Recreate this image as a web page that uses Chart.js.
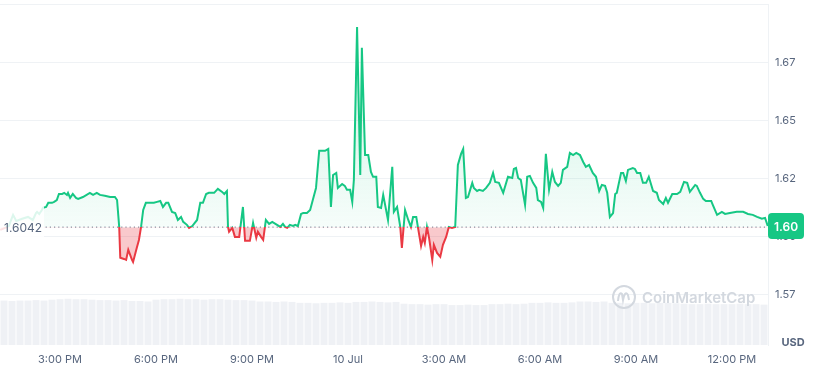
<!DOCTYPE html>
<html lang="en">
<head>
<meta charset="UTF-8">
<title>Price chart</title>
<script src="https://cdn.jsdelivr.net/npm/chart.js@4"></script>
<style>
  html, body { margin: 0; padding: 0; background: #fff; }
  .wrap { width: 816px; height: 378px; position: relative; }
</style>
</head>
<body>
<div class="wrap"><canvas id="chart"></canvas></div>
<script>
// time = minutes after 13:00 on 9 Jul
const times = [
  8,17,24,32,38,49,60,69,75,77,
  81,86,88,94,98,105,109,114,118,124,
  128,133,135,139,144,150,154,163,176,182,
  189,195,204,214,223,227,231,233,240,244,
  248,255,257,264,268,272,276,281,293,296,
  302,308,313,319,323,330,336,341,347,351,
  358,362,368,377,383,388,394,399,409,416,
  424,428,433,435,437,443,448,456,463,467,
  476,482,488,491,497,501,506,512,518,527,
  533,538,542,546,551,557,561,566,572,576,
  583,589,594,600,606,611,617,623,628,632,
  638,641,649,654,658,664,668,671,677,683,
  686,692,698,703,707,713,716,722,726,735,
  743,746,752,758,761,767,773,778,782,788,
  791,797,801,804,808,812,818,821,827,833,
  838,844,849,855,861,866,872,876,881,885,
  893,896,902,906,913,919,926,932,936,943,
  951,960,968,971,975,979,984,992,996,1001,
  1007,1013,1016,1022,1026,1031,1037,1043,1048,1054,
  1059,1063,1071,1076,1082,1088,1095,1101,1106,1112,
  1119,1125,1131,1136,1142,1146,1151,1157,1161,1164,
  1172,1176,1181,1185,1194,1198,1202,1208,1213,1219,
  1224,1232,1239,1243,1251,1256,1260,1268,1277,1283,
  1290,1296,1301,1311,1314,1320,1326,1331,1341,1344,
  1352,1361,1367,1376,1389,1401,1410,1419,1427,1436,
  1442,1447
];
const prices = [
  1.6030,1.6039,1.6047,1.6095,1.6069,1.6078,1.6086,1.6073,1.6103,1.6108,
  1.6099,1.6116,1.6125,1.6129,1.6147,1.6147,1.6151,1.6159,1.6185,1.6185,
  1.6190,1.6181,1.6190,1.6168,1.6185,1.6168,1.6164,1.6172,1.6190,1.6181,
  1.6190,1.6181,1.6177,1.6172,1.6172,1.6159,1.6043,1.5910,1.5905,1.5901,
  1.5944,1.5901,1.5892,1.5953,1.5987,1.6043,1.6116,1.6147,1.6147,1.6147,
  1.6151,1.6155,1.6129,1.6147,1.6147,1.6108,1.6103,1.6073,1.6086,1.6065,
  1.6052,1.6039,1.6047,1.6073,1.6147,1.6147,1.6185,1.6190,1.6190,1.6207,
  1.6194,1.6185,1.6198,1.6043,1.6022,1.6039,1.6000,1.6000,1.6129,1.5983,
  1.5983,1.6060,1.5996,1.6022,1.6000,1.5987,1.6073,1.6056,1.6065,1.6052,
  1.6043,1.6056,1.6043,1.6039,1.6052,1.6047,1.6052,1.6047,1.6099,1.6103,
  1.6103,1.6116,1.6159,1.6211,1.6371,1.6371,1.6371,1.6379,1.6129,1.6267,
  1.6276,1.6211,1.6228,1.6220,1.6203,1.6203,1.6151,1.6246,1.6905,1.6267,
  1.6815,1.6353,1.6353,1.6280,1.6259,1.6259,1.6129,1.6125,1.6181,1.6073,
  1.6302,1.6108,1.6129,1.6043,1.5953,1.6116,1.6073,1.6043,1.6086,1.6086,
  1.6043,1.5961,1.6000,1.5974,1.6043,1.5996,1.5901,1.5966,1.5931,1.5914,
  1.5966,1.6000,1.6043,1.6039,1.6043,1.6310,1.6358,1.6379,1.6168,1.6172,
  1.6233,1.6211,1.6198,1.6203,1.6198,1.6211,1.6233,1.6276,1.6237,1.6233,
  1.6190,1.6259,1.6254,1.6293,1.6297,1.6254,1.6246,1.6138,1.6259,1.6263,
  1.6233,1.6211,1.6159,1.6151,1.6125,1.6358,1.6203,1.6280,1.6237,1.6220,
  1.6233,1.6289,1.6302,1.6362,1.6353,1.6362,1.6353,1.6323,1.6302,1.6310,
  1.6276,1.6259,1.6198,1.6224,1.6220,1.6190,1.6086,1.6103,1.6185,1.6190,
  1.6276,1.6276,1.6241,1.6289,1.6297,1.6293,1.6276,1.6276,1.6233,1.6233,
  1.6259,1.6198,1.6190,1.6159,1.6142,1.6168,1.6147,1.6185,1.6185,1.6194,
  1.6237,1.6233,1.6194,1.6224,1.6220,1.6190,1.6164,1.6155,1.6155,1.6138,
  1.6095,1.6108,1.6099,1.6103,1.6108,1.6108,1.6099,1.6095,1.6086,1.6078,
  1.6082,1.6047
];
const volTimes = [
  15,30,45,60,75,90,105,120,135,150,165,180,195,210,225,240,
  255,270,285,300,315,330,345,360,375,390,405,420,435,450,465,480,
  495,510,525,540,555,570,585,600,615,630,645,660,675,690,705,720,
  735,750,765,780,795,810,825,840,855,870,885,900,915,930,945,960,
  975,990,1005,1020,1035,1050,1065,1080,1095,1110,1125,1140,1155,1170,1185,1200,
  1215,1230,1245,1260,1275,1290,1305,1320,1335,1350,1365,1380,1395,1410,1425,1440
];
const volumes = [
  99,98,99,99,100,99, 101,102,103,102,102,101, 100,100,99,100, 98,98,97,
  101,102,102,103,102,102,101,102,102,101, 100,100,99, 97,97,96,97,96,
  94,94,93,94,94,95,94, 96,96,97,96,95,96, 92,91,91,90,91,91, 89,89,90,89,89,
  91,91,92,91,92, 94,94,95,94,94,95, 97,97,96,97,
  94,94,93,94,94,93,94,94,93, 92,91,91,92,91,91,91,92,91,91,90
];
const openPrice = 1.6042;
const xTickValues = [120, 300, 480, 660, 840, 1020, 1200, 1380];
const xTickLabels = ['3:00 PM', '6:00 PM', '9:00 PM', '10 Jul', '3:00 AM', '6:00 AM', '9:00 AM', '12:00 PM'];
const yTickValues = [1.575, 1.6, 1.625, 1.65, 1.675];
const yTickLabels = ['1.57', '1.60', '1.62', '1.65', '1.67'];

const GREEN = '#16c784';
const RED = '#ea3943';
const TEXT = '#58667e';
const GRID = '#eff2f5';

function lineColor(c) {
  const chart = c.chart;
  const a = chart.chartArea;
  if (!a) return GREEN;
  const yb = chart.scales.y.getPixelForValue(openPrice);
  const s = Math.min(1, Math.max(0, (yb - a.top) / (a.bottom - a.top)));
  const g = chart.ctx.createLinearGradient(0, a.top, 0, a.bottom);
  g.addColorStop(0, GREEN);
  g.addColorStop(s, GREEN);
  g.addColorStop(s, RED);
  g.addColorStop(1, RED);
  return g;
}

function greenFill(c) {
  const chart = c.chart;
  const a = chart.chartArea;
  if (!a) return 'rgba(22,199,132,0.08)';
  const yb = chart.scales.y.getPixelForValue(openPrice);
  const g = chart.ctx.createLinearGradient(0, a.top, 0, yb);
  g.addColorStop(0, 'rgba(22,199,132,0.24)');
  g.addColorStop(1, 'rgba(22,199,132,0.04)');
  return g;
}

// drop the label overflow padding so the plot fills the canvas height
function noPad(s) {
  s.paddingTop = 0;
  s.paddingBottom = 0;
  s.paddingLeft = 0;
  s.paddingRight = 0;
}

const extras = {
  id: 'extras',
  beforeDatasetsDraw(chart) {
    const {ctx, chartArea: a} = chart;
    ctx.save();
    ctx.strokeStyle = GRID;
    ctx.lineWidth = 1;
    ctx.beginPath();
    ctx.moveTo(a.left, a.top + 0.5);
    ctx.lineTo(a.right, a.top + 0.5);
    ctx.stroke();
    ctx.restore();
  },
  afterDatasetsDraw(chart) {
    const {ctx, chartArea: a} = chart;
    ctx.save();
    // watermark
    const cx = 624, cy = 297;
    ctx.strokeStyle = '#d3d8df';
    ctx.lineWidth = 2;
    ctx.beginPath();
    ctx.arc(cx, cy, 11, 0, Math.PI * 2);
    ctx.stroke();
    ctx.beginPath();
    ctx.moveTo(cx - 6, cy + 4);
    ctx.quadraticCurveTo(cx - 5, cy - 6, cx - 2, cy - 3);
    ctx.lineTo(cx - 1, cy + 3);
    ctx.quadraticCurveTo(cx + 1, cy - 7, cx + 4, cy - 2);
    ctx.lineTo(cx + 5, cy + 3);
    ctx.stroke();
    ctx.fillStyle = '#d3d8df';
    ctx.font = '600 15px Inter';
    ctx.textBaseline = 'middle';
    ctx.textAlign = 'left';
    ctx.fillText('CoinMarketCap', 642, cy + 1);

    // open price label
    const y = chart.scales.y.getPixelForValue(openPrice);
    ctx.fillStyle = 'rgba(255,255,255,0.85)';
    ctx.fillRect(a.left, y - 21, 44, 40);
    ctx.fillStyle = TEXT;
    ctx.font = '12px Inter';
    ctx.fillText(String(openPrice), 4, y + 1);
    ctx.restore();
  },
  afterDraw(chart) {
    const {ctx, chartArea: a} = chart;
    ctx.save();
    const last = prices[prices.length - 1];
    const y = chart.scales.y.getPixelForValue(last);
    ctx.fillStyle = GREEN;
    ctx.beginPath();
    ctx.roundRect(a.right, y - 13, 36, 26, 4);
    ctx.fill();
    ctx.fillStyle = '#fff';
    ctx.font = '600 12px Inter';
    ctx.textAlign = 'center';
    ctx.textBaseline = 'middle';
    ctx.fillText(last.toFixed(2), a.right + 18, y + 1);

    ctx.fillStyle = TEXT;
    ctx.font = 'bold 11px Inter';
    ctx.fillText('USD', 793, 343);
    ctx.restore();
  }
};

new Chart(document.getElementById('chart'), {
  type: 'line',
  data: {
    datasets: [
      {
        type: 'line',
        data: times.map((t, i) => ({x: t, y: prices[i]})),
        borderColor: lineColor,
        backgroundColor: greenFill,
        borderWidth: 2,
        pointRadius: 0,
        tension: 0,
        fill: {target: {value: openPrice}, below: 'rgba(234,57,67,0.27)'},
        order: 1
      },
      {
        type: 'line',
        data: [{x: 93, y: openPrice}, {x: 1447.5, y: openPrice}],
        borderColor: '#8a93a3',
        borderWidth: 1.2,
        borderDash: [1.2, 3],
        pointRadius: 0,
        fill: false,
        order: 2
      },
      {
        type: 'bar',
        yAxisID: 'yv',
        data: volTimes.map((t, i) => ({x: t, y: volumes[i]})),
        backgroundColor: '#eff1f5',
        barPercentage: 0.88,
        categoryPercentage: 1,
        order: 3
      }
    ]
  },
  options: {
    responsive: true,
    maintainAspectRatio: false,
    animation: false,
    layout: {padding: {top: 4, right: 0, bottom: 12, left: 0}},
    plugins: {legend: {display: false}, tooltip: {enabled: false}},
    scales: {
      x: {
        type: 'linear',
        min: 7.5,
        max: 1447.5,
        offset: false,
        afterBuildTicks: (s) => { s.ticks = xTickValues.map(v => ({value: v})); },
        afterFit: (s) => { noPad(s); s.height = 21; },
        ticks: {
          autoSkip: false,
          maxRotation: 0,
          padding: 8,
          color: TEXT,
          font: {family: 'Inter', size: 11},
          callback: (v, i) => xTickLabels[i]
        },
        grid: {display: false, drawTicks: false, offset: false},
        border: {display: false}
      },
      y: {
        position: 'right',
        min: 1.5534,
        max: 1.7004,
        afterBuildTicks: (s) => { s.ticks = yTickValues.map(v => ({value: v})); },
        afterFit: (s) => { noPad(s); s.width = 48; },
        ticks: {
          padding: 7,
          color: TEXT,
          font: {family: 'Inter', size: 11},
          callback: (v, i) => yTickLabels[i]
        },
        grid: {color: GRID, drawTicks: false},
        border: {display: true, color: GRID}
      },
      yv: {
        display: false,
        min: 0,
        max: 760
      }
    }
  },
  plugins: [extras]
});
</script>
</body>
</html>
